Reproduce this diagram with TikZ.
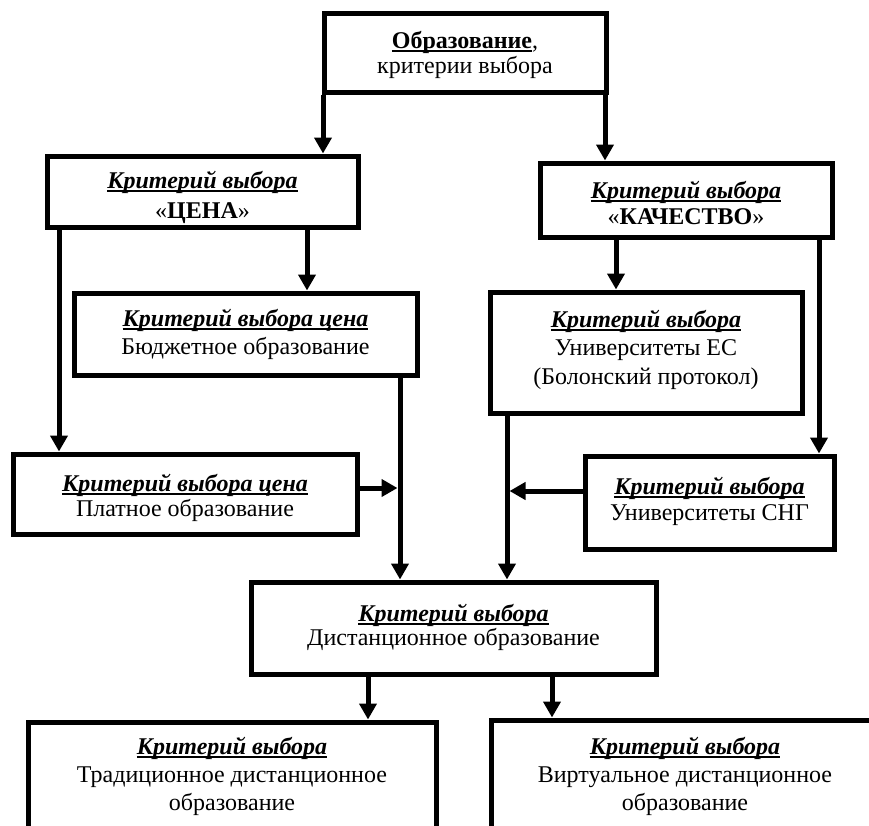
\documentclass[tikz,border=0pt]{standalone}
\usepackage{fontspec}
\setmainfont{Liberation Serif}
\usetikzlibrary{arrows.meta}

% Word-style underline: a thin rule just under the baseline, crossing descenders
\newcommand\wordul[1]{\setbox0\hbox{#1}\rlap{\rule[-3.6pt]{\wd0}{1.8pt}}\box0}
\newcommand\crit[1]{\wordul{\bfseries\itshape #1}}

\tikzset{
  box/.style={draw, line width=5pt, inner sep=0pt},
  txt/.style={align=center, inner sep=0pt, font=\fontsize{24}{28}\selectfont},
  link/.style={line width=5pt, -{Triangle[width=17pt,length=16pt]}},
}

\begin{document}
\begin{tikzpicture}[x=1pt, y=-1pt]
\useasboundingbox (0,0) rectangle (869,825);
\fill[white] (0,0) rectangle (869,825);
\clip (0,0) rectangle (869,825);

% boxes
\node[box, minimum width=282pt, minimum height=79pt] (edu) at (465,52.5) {};
\node[box, minimum width=311pt, minimum height=71pt] (price) at (202.5,191.5) {};
\node[box, minimum width=292pt, minimum height=74pt] (quality) at (686,200) {};
\node[box, minimum width=343pt, minimum height=82pt] (budget) at (245.5,334) {};
\node[box, minimum width=312pt, minimum height=121pt] (eu) at (646,352.5) {};
\node[box, minimum width=344pt, minimum height=80pt] (paid) at (185,494) {};
\node[box, minimum width=249pt, minimum height=93pt] (cis) at (709.5,502.5) {};
\node[box, minimum width=405pt, minimum height=92pt] (dist) at (453.5,628) {};
\node[box, minimum width=408pt, minimum height=106pt] (trad) at (232,775) {};
\node[box, minimum width=388pt, minimum height=110pt] (virt) at (685,775) {};

% box texts
\node[txt] (edu-t) at ([yshift=-2pt]edu.center)
  {\wordul{\bfseries Образование},\\[-3pt]критерии выбора};
\node[txt] (price-t) at ([yshift=-6pt]price.center)
  {\crit{Критерий выбора}\\[2pt]«\textbf{ЦЕНА}»};
\node[txt] (quality-t) at ([yshift=-3pt]quality.center)
  {\crit{Критерий выбора}\\[-2pt]«\textbf{КАЧЕСТВО}»};
\node[txt] (budget-t) at (budget.center)
  {\crit{Критерий выбора цена}\\Бюджетное образование};
\node[txt] (eu-t) at ([yshift=3pt]eu.center)
  {\crit{Критерий выбора}\\Университеты ЕС\\[1pt](Болонский протокол)};
\node[txt] (paid-t) at ([yshift=-4pt]paid.center)
  {\crit{Критерий выбора цена}\\[-3pt]Платное образование};
\node[txt] (cis-t) at ([yshift=1pt]cis.center)
  {\crit{Критерий выбора}\\[-2pt]Университеты СНГ};
\node[txt] (dist-t) at ([yshift=1pt]dist.center)
  {\crit{Критерий выбора}\\[-4pt]Дистанционное образование};
\node[txt] (trad-t) at ([yshift=-1pt]trad.center)
  {\crit{Критерий выбора}\\Традиционное дистанционное\\образование};
\node[txt] (virt-t) at ([yshift=-1pt]virt.center)
  {\crit{Критерий выбора}\\Виртуальное дистанционное\\образование};

% vertical guides for the connectors
\coordinate (xA) at (323,0);
\coordinate (xB) at (605,0);
\coordinate (xC) at (307,0);
\coordinate (xD) at (59,0);
\coordinate (xE) at (616,0);
\coordinate (xF) at (819,0);
\coordinate (xG) at (400,0);
\coordinate (xH) at (507,0);
\coordinate (xI) at (368,0);
\coordinate (xJ) at (552,0);

% connectors
\draw[link] (edu.south -| xA) -- (price.north -| xA);
\draw[link] (edu.south -| xB) -- (quality.north -| xB);
\draw[link] (price.south -| xC) -- (budget.north -| xC);
\draw[link] (price.south -| xD) -- (paid.north -| xD);
\draw[link] (quality.south -| xE) -- (eu.north -| xE);
\draw[link] (quality.south -| xF) -- (cis.north -| xF);
\draw[link] (budget.south -| xG) -- (dist.north -| xG);
\draw[link] (eu.south -| xH) -- (dist.north -| xH);

% side inputs joining the two vertical lines
\coordinate (jL) at (397.5,488);
\coordinate (jR) at (509.5,491);
\draw[link] (paid.east |- jL) -- (jL);
\draw[link] (cis.west |- jR) -- (jR);

\draw[link] (dist.south -| xI) -- (trad.north -| xI);
\draw[link] (dist.south -| xJ) -- (virt.north -| xJ);
\end{tikzpicture}
\end{document}
